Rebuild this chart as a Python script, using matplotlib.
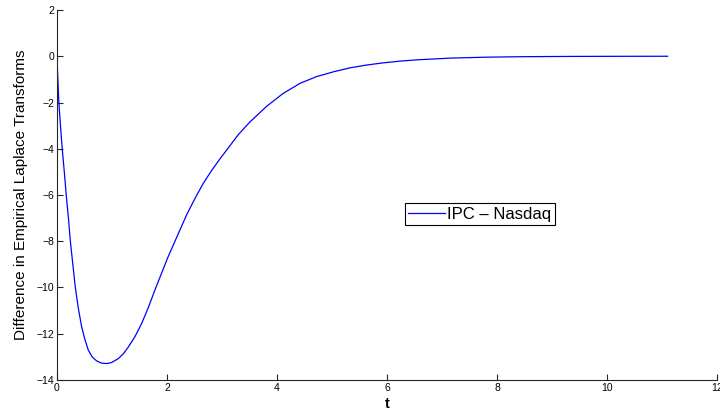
import matplotlib.pyplot as plt
import numpy as np

# values
t = [0, 0.018, 0.036, 0.065, 0.097, 0.135, 0.17, 0.21, 0.245, 0.29, 0.335,
     0.39, 0.45, 0.51, 0.57, 0.64, 0.72, 0.81, 0.9, 0.99, 1.12, 1.21, 1.3,
     1.42, 1.54, 1.66, 1.78, 2.02, 2.2, 2.36, 2.51, 2.66, 2.81, 2.96, 3.12,
     3.3, 3.51, 3.81, 4.11, 4.42, 4.72, 5.03, 5.33, 5.63, 5.93, 6.24, 6.54,
     7.15, 7.8, 8.5, 9.3, 10.2, 11.1]
diff = [0, -1.0, -2.0, -3.0, -4.0, -5.0, -6.0, -7.0, -8.0, -9.0, -10.0,
        -10.9, -11.7, -12.25, -12.7, -13.0, -13.17, -13.27, -13.29, -13.25,
        -13.07, -12.86, -12.57, -12.12, -11.56, -10.88, -10.12, -8.68, -7.71,
        -6.85, -6.15, -5.5, -4.95, -4.45, -3.95, -3.38, -2.84, -2.17, -1.61,
        -1.17, -0.88, -0.67, -0.5, -0.38, -0.285, -0.21, -0.155, -0.08, -0.04,
        -0.018, -0.007, -0.002, 0]
xticks = [0, 2, 4, 6, 8, 10, 12]
yticks = [-14, -12, -10, -8, -6, -4, -2, 0, 2]

plt.rcParams['font.family'] = ['Liberation Sans', 'DejaVu Sans']

fig = plt.figure(figsize=(7.2, 4.12), dpi=100)
ax = fig.add_axes([0.079, 0.0777, 0.917, 0.898])
ax.plot(t, diff, color='blue', linewidth=0.9, label='IPC \u2013 Nasdaq')

ax.set_xlim(0, 12)
ax.set_ylim(-14, 2)
ax.set_xticks(xticks)
ax.set_yticks(yticks)
ax.tick_params(direction='in', length=4, labelsize=7.5, colors='#262626',
               labelcolor='black', pad=2)
for s in ['top', 'right']:
    ax.spines[s].set_visible(False)
for s in ['left', 'bottom']:
    ax.spines[s].set_color('#262626')
    ax.spines[s].set_linewidth(0.8)

ax.set_xlabel('t', fontsize=10.5, fontweight='bold', labelpad=3)
ax.set_ylabel('Difference in Empirical Laplace Transforms', fontsize=11, labelpad=6)

leg = ax.legend(loc='lower left', bbox_to_anchor=(0.527, 0.419), borderaxespad=0,
                fancybox=False, edgecolor='black', framealpha=1, fontsize=12,
                handlelength=2.2, handletextpad=0.15, borderpad=0.2)
leg.get_frame().set_linewidth(0.8)

fig.savefig('out.png', dpi=100)
